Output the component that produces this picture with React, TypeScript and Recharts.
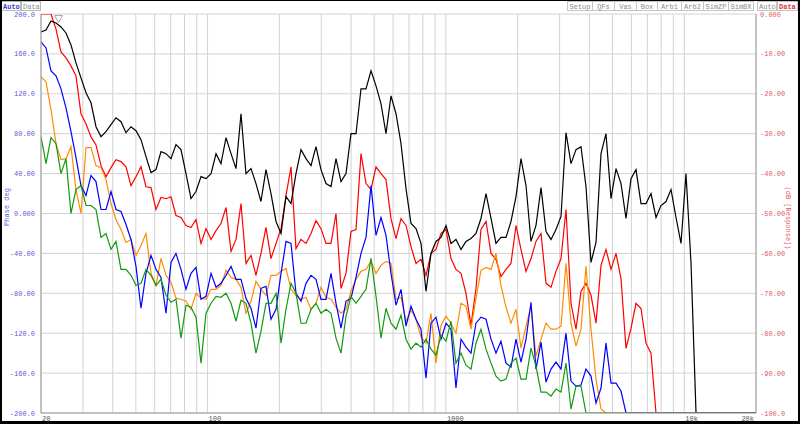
import React from "react";
import { CartesianGrid, Line, LineChart, XAxis, YAxis } from "recharts";

// frequency grid (Hz), log spaced
const freqs = [
  20, 20.99, 22.03, 23.12, 24.26, 25.46, 26.72, 28.04, 29.43, 30.89,
  32.42, 34.02, 35.71, 37.47, 39.33, 41.27, 43.32, 45.46, 47.71, 50.07,
  52.55, 55.15, 57.88, 60.74, 63.75, 66.91, 70.22, 73.69, 77.34, 81.17,
  85.19, 89.41, 93.83, 98.48, 103.4, 108.5, 113.8, 119.5, 125.4, 131.6,
  138.1, 144.9, 152.1, 159.6, 167.5, 175.8, 184.5, 193.7, 203.3, 213.3,
  223.9, 234.9, 246.6, 258.8, 271.6, 285.0, 299.1, 313.9, 329.5, 345.8,
  362.9, 380.8, 399.7, 419.5, 440.2, 462.0, 484.9, 508.9, 534.1, 560.5,
  588.3, 617.4, 647.9, 680.0, 713.7, 749.0, 786.0, 825.0, 865.8, 908.6,
  953.6, 1001, 1050, 1102, 1157, 1214, 1274, 1337, 1403, 1473,
  1546, 1622, 1702, 1787, 1875, 1968, 2065, 2168, 2275, 2387,
  2506, 2630, 2760, 2896, 3040, 3190, 3348, 3514, 3688, 3870,
  4062, 4263, 4474, 4695, 4928, 5172, 5428, 5696, 5978, 6274,
  6585, 6910, 7252, 7611, 7988, 8384, 8799, 9234, 9691, 10170,
  10676, 11204, 11758, 12340, 12951, 13592, 14265, 14971, 15712, 16490,
  17306, 18162, 19061, 20000,
];

// phase traces (deg, left axis)
const blackTrace = [
  182, 184, 193, 191, 187, 181, 169, 151, 136, 121,
  111, 87, 77, 82, 89, 96, 92, 81, 87, 83,
  74, 57, 41, 44, 62, 60, 55, 69, 64, 40,
  15, 22, 37, 35, 40, 60, 50, 76, 60, 45,
  100, 40, 45, 30, 12, 44, 20, -8, -20, 17,
  10, 40, 64, 55, 48, 67, 44, 30, 27, 55,
  32, 40, 80, 80, 125, 125, 143, 128, 110, 80,
  118, 100, 70, 25, -10, -15, -30, -78, -40, -28,
  -24, -12, -30, -26, -36, -28, -25, -20, -5, 20,
  -5, -30, -24, -24, -8, 17, 55, 28, -28, -12,
  26, -18, -26, -16, -3, 81, 50, 64, 67, 27,
  -49, -29, 60, 80, 15, 45, 30, -5, 35, 44,
  10, 10, 20, -4, 8, 12, 24, -4, -30, 40,
  -50, -200, -200, -200, -200, -200, -200, -200, -200, -200,
  -200, -200, -200, -200,
];

const blueTrace = [
  172, 166, 143, 138, 125, 106, 82, 56, 28, 18,
  38, 32, 4, 4, 22, 4, 2, -11, -26, -53,
  -95, -60, -42, -56, -64, -100, -49, -40, -56, -76,
  -60, -54, -86, -83, -60, -74, -70, -62, -53, -66,
  -66, -85, -95, -115, -75, -73, -106, -96, -60, -28,
  -30, -80, -88, -70, -62, -66, -86, -86, -60, -90,
  -115, -88, -85, -64, -40, -24, 28, -22, -4, -22,
  -60, -92, -76, -113, -93, -106, -116, -165, -110, -104,
  -126, -110, -116, -175, -126, -134, -140, -110, -104, -106,
  -126, -140, -128, -150, -154, -126, -149, -126, -89, -156,
  -129, -169, -156, -149, -156, -120, -168, -173, -172, -156,
  -163, -190, -175, -130, -170, -170, -178, -200, -200, -200,
  -200, -200, -200, -200, -200, -200, -200, -200, -200, -200,
  -200, -200, -200, -200, -200, -200, -200, -200, -200, -200,
  -200, -200, -200, -200,
];

const orangeTrace = [
  137, 132, 104, 70, 54, 55, 67, 24, 0, 66,
  66, 48, 46, 34, 10, -6, -16, -29, -26, -42,
  -32, -20, -60, -72, -45, -62, -69, -85, -86, -88,
  -96, -80, -85, -86, -76, -76, -72, -57, -64, -66,
  -74, -100, -88, -68, -76, -82, -62, -62, -58, -55,
  -76, -82, -86, -84, -96, -90, -74, -84, -86, -94,
  -100, -96, -78, -66, -58, -56, -48, -60, -52, -48,
  -50, -86, -84, -108, -97, -106, -124, -130, -100, -150,
  -112, -103, -110, -120, -90, -93, -116, -85, -57, -54,
  -56, -40, -72, -94, -110, -96, -135, -113, -93, -143,
  -126, -110, -116, -116, -113, -50, -110, -133, -116, -53,
  -116, -166, -196, -200, -200, -200, -200, -200, -200, -200,
  -200, -200, -200, -200, -200, -200, -200, -200, -200, -200,
  -200, -200, -200, -200, -200, -200, -200, -200, -200, -200,
  -200, -200, -200, -200,
];

const greenTrace = [
  77, 50, 76, 70, 40, 55, 0, 24, 28, 8,
  8, 4, -24, -20, -36, -28, -56, -56, -62, -72,
  -70, -56, -62, -72, -66, -82, -89, -86, -125, -92,
  -94, -104, -150, -100, -90, -83, -84, -80, -90, -108,
  -87, -90, -110, -140, -118, -90, -90, -80, -130, -96,
  -70, -80, -110, -110, -96, -90, -100, -96, -100, -125,
  -140, -103, -83, -90, -83, -76, -45, -83, -125, -95,
  -110, -116, -102, -126, -136, -130, -134, -126, -136, -142,
  -122, -128, -108, -150, -140, -152, -156, -130, -116, -136,
  -150, -163, -168, -166, -150, -145, -166, -166, -135, -153,
  -179, -179, -183, -176, -179, -150, -196, -173, -173, -200,
  -200, -200, -200, -200, -200, -200, -200, -200, -200, -200,
  -200, -200, -200, -200, -200, -200, -200, -200, -200, -200,
  -200, -200, -200, -200, -200, -200, -200, -200, -200, -200,
  -200, -200, -200, -200,
];

// response (dB, right axis)
const redTrace = [
  0, 0, 0, -3.8, -9.5, -11, -13, -15.5, -25, -27.5,
  -30.8, -32.8, -38, -40.8, -38.5, -36.5, -37, -38.3, -43, -40.8,
  -38.3, -43.3, -43.5, -49, -46, -46.3, -45.8, -50.5, -51, -53,
  -53.5, -51.5, -57.5, -53.8, -56.5, -54.3, -52.5, -48.5, -59.5, -56.5,
  -47.5, -62.5, -60.5, -65.5, -60, -53.5, -61.3, -57.5, -53.8, -45.5,
  -38.3, -58.8, -56.5, -57.5, -55, -51.8, -53.8, -57.5, -57.5, -50,
  -68.8, -65, -54.5, -54, -35, -42.5, -44, -38.3, -40, -41.5,
  -51.3, -56.3, -51.3, -53, -58.3, -62.5, -61.5, -65.5, -60, -59,
  -55, -54, -61.3, -64, -65, -70, -78, -68.8, -54, -52,
  -60, -61.5, -65.8, -64, -62.5, -53, -59, -64.5, -61.3, -57,
  -55, -67.5, -68.5, -64.5, -61.3, -49, -72.5, -79, -69.5, -67.5,
  -70.5, -77.5, -63, -59, -64, -60, -66.3, -83.8, -78.8, -72.5,
  -73.8, -82.5, -85, -100, -100, -100, -100, -100, -100, -100,
  -100, -100, -100, -100, -100, -100, -100, -100, -100, -100,
  -100, -100, -100, -100,
];

const freqTicks = [
  20, 30, 40, 50, 60, 70, 80, 90, 100, 200, 300, 400, 500, 600, 700, 800, 900,
  1000, 2000, 3000, 4000, 5000, 6000, 7000, 8000, 9000, 10000, 20000,
];
const freqLabels: Record<number, string> = { 20: "20", 100: "100", 1000: "1000", 10000: "10k", 20000: "20k" };
const phaseTicks = [200, 160, 120, 80, 40, 0, -40, -80, -120, -160, -200];
const phaseLabels = ["200.0", "160.0", "120.0", "80.00", "40.00", "0.000", "-40.00", "-80.00", "-120.0", "-160.0", "-200.0"];
const dbTicks = [0, -10, -20, -30, -40, -50, -60, -70, -80, -90, -100];
const dbLabels = ["0.000", "-10.00", "-20.00", "-30.00", "-40.00", "-50.00", "-60.00", "-70.00", "-80.00", "-90.00", "-100.0"];
const tabNames = ["Setup", "QFs", "Vas", "Box", "Arb1", "Arb2", "SimZP", "SimBX"];

const data = freqs.map((f, i) => ({
  f,
  black: blackTrace[i],
  red: redTrace[i],
  blue: blueTrace[i],
  orange: orangeTrace[i],
  green: greenTrace[i],
}));

const mono = "'Liberation Mono', 'DejaVu Sans Mono', monospace";
const tabEdges = [567, 592, 614, 636, 657, 681, 703, 728, 753];

function PhaseTick({ y, payload }: any) {
  const i = phaseTicks.indexOf(payload.value);
  return (
    <text x={35} y={y} dy={2.5} textAnchor="end" fontSize={7} fontFamily={mono} fill="#5c5cd6">
      {phaseLabels[i]}
    </text>
  );
}

function DbTick({ y, payload }: any) {
  const i = dbTicks.indexOf(payload.value);
  return (
    <text x={760} y={y} dy={2.5} textAnchor="start" fontSize={7} fontFamily={mono} fill="#e05a5a">
      {dbLabels[i]}
    </text>
  );
}

function FreqTick({ x, payload }: any) {
  const label = freqLabels[payload.value];
  if (!label) return <g />;
  const last = payload.value === 20000;
  return (
    <text x={last ? x - 2 : x + 1} y={421} textAnchor={last ? "end" : "start"} fontSize={7} fontFamily={mono} fill="#555">
      {label}
    </text>
  );
}

function Overlay() {
  return (
    <svg width={800} height={424} style={{ position: "absolute", left: 0, top: 0, pointerEvents: "none" }}>
      {/* left buttons */}
      <rect x={1.5} y={1.5} width={19} height={9} fill="none" stroke="#b8b8b8" />
      <text x={3} y={9} fontSize={7} fontFamily={mono} fontWeight="bold" fill="#3a3ad0">Auto</text>
      <rect x={21.5} y={1.5} width={19} height={9} fill="none" stroke="#b8b8b8" />
      <text x={23} y={9} fontSize={7} fontFamily={mono} fill="#8a8a8a">Data</text>
      {/* tabs */}
      {tabNames.map((t, i) => (
        <g key={t}>
          <rect x={tabEdges[i] + 0.5} y={1.5} width={tabEdges[i + 1] - tabEdges[i]} height={9} fill="none" stroke="#c4c4c4" />
          <text x={(tabEdges[i] + tabEdges[i + 1]) / 2 + 0.5} y={9} textAnchor="middle" fontSize={7} fontFamily={mono} fill="#8a8a8a">{t}</text>
        </g>
      ))}
      <rect x={757.5} y={1.5} width={19} height={9} fill="none" stroke="#c4c4c4" />
      <text x={759} y={9} fontSize={7} fontFamily={mono} fill="#8a8a8a">Auto</text>
      <rect x={777.5} y={1.5} width={20} height={9} fill="none" stroke="#c4c4c4" />
      <text x={779} y={9} fontSize={7} fontFamily={mono} fontWeight="bold" fill="#e03030">Data</text>
      {/* axis titles */}
      <text transform="translate(9,207) rotate(-90)" textAnchor="middle" fontSize={7} fontFamily={mono} fill="#5c5cd6">Phase deg</text>
      <text transform="translate(786,218) rotate(90)" textAnchor="middle" fontSize={7} fontFamily={mono} fill="#e05a5a">(dB [Response])</text>
      {/* marker */}
      <path d="M54.5 15.5 L62.5 15.5 L58.5 22.5 Z" fill="none" stroke="#aaa" />
      {/* frame */}
      <rect x={0} y={0} width={2} height={424} fill="#000" />
      <rect x={798} y={0} width={2} height={424} fill="#000" />
      <rect x={0} y={421} width={800} height={3} fill="#000" />
      <rect x={0} y={0} width={800} height={1} fill="#000" />
    </svg>
  );
}

export default function App() {
  return (
    <div style={{ position: "relative", width: 800, height: 424, background: "#fff" }}>
      <style>{"body{margin:0}"}</style>
      <LineChart width={800} height={424} data={data} margin={{ top: 14, right: 0, bottom: 0, left: 0 }}>
        <CartesianGrid yAxisId="phase" stroke="#d2d2d2" strokeWidth={1} />
        <XAxis
          dataKey="f"
          type="number"
          scale="log"
          domain={[20, 20000]}
          ticks={freqTicks}
          interval={0}
          height={11}
          tickLine={false}
          axisLine={{ stroke: "#9a9a9a" }}
          tick={<FreqTick />}
          allowDataOverflow
        />
        <YAxis
          yAxisId="phase"
          domain={[-200, 200]}
          ticks={phaseTicks}
          interval={0}
          width={41}
          tickLine={false}
          axisLine={{ stroke: "#9a9a9a" }}
          tick={<PhaseTick />}
          allowDataOverflow
        />
        <YAxis
          yAxisId="db"
          orientation="right"
          domain={[-100, 0]}
          ticks={dbTicks}
          interval={0}
          width={44}
          tickLine={false}
          axisLine={{ stroke: "#9a9a9a" }}
          tick={<DbTick />}
          allowDataOverflow
        />
        <Line yAxisId="db" dataKey="red" stroke="#ff0000" strokeWidth={1.2} dot={false} isAnimationActive={false} />
        <Line yAxisId="phase" dataKey="black" stroke="#000000" strokeWidth={1.2} dot={false} isAnimationActive={false} />
        <Line yAxisId="phase" dataKey="orange" stroke="#ff8c00" strokeWidth={1.2} dot={false} isAnimationActive={false} />
        <Line yAxisId="phase" dataKey="blue" stroke="#0000ff" strokeWidth={1.2} dot={false} isAnimationActive={false} />
        <Line yAxisId="phase" dataKey="green" stroke="#109a10" strokeWidth={1.2} dot={false} isAnimationActive={false} />
      </LineChart>
      <Overlay />
    </div>
  );
}
